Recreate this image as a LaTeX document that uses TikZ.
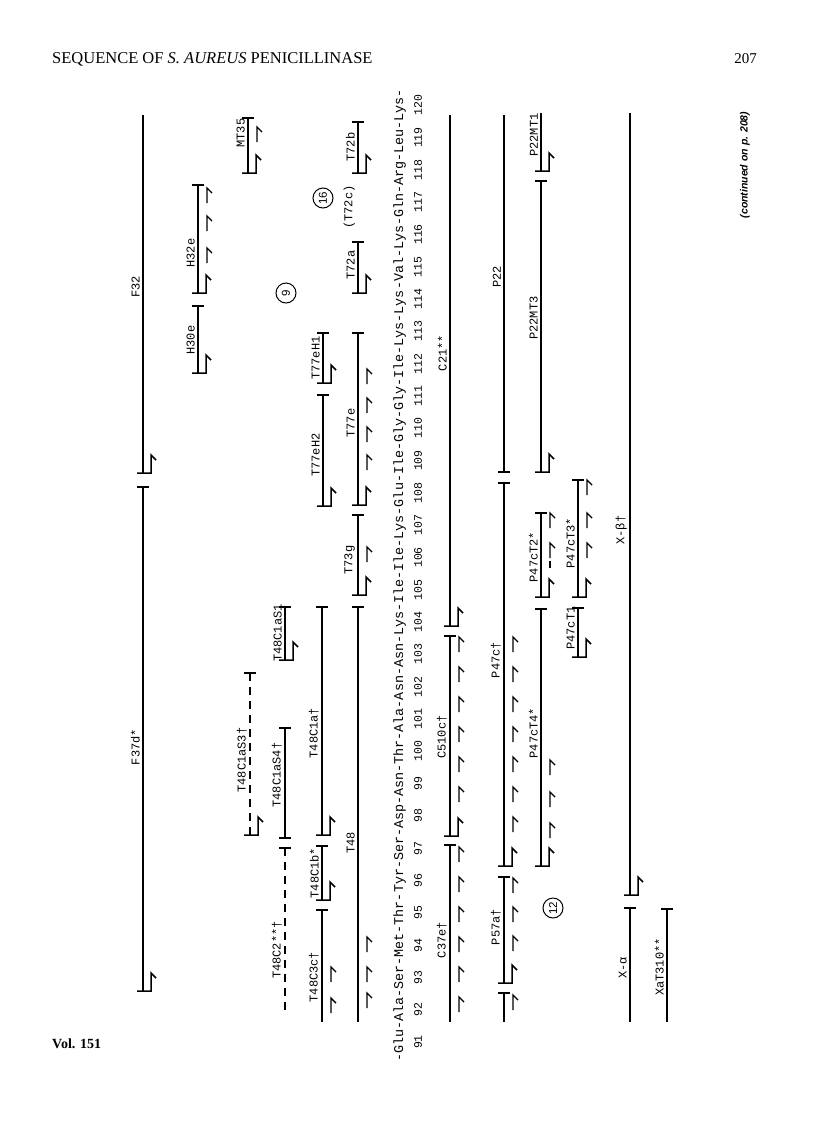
\documentclass[tikz,border=0pt]{standalone}
\usepackage{fontspec}
\setmainfont{Liberation Serif}
\newfontfamily\twfont{Liberation Mono}
\newfontfamily\optfont{Liberation Sans}
\newcommand\pbar[2]{\draw[pep] (#1-6,#2) -- (#1+6,#2);}
\newcommand\phook[2]{\draw[pep] (#1-6,#2) -- (#1+8,#2) -- (#1+8,#2-18) -- (#1+13,#2-13);}
\newcommand\parr[2]{\draw[arr] (#1+9,#2+15) -- (#1+9,#2) -- (#1+14,#2+5);}
\begin{document}
\begin{tikzpicture}[x=1pt,y=-1pt,
  pep/.style={line width=1.5pt},
  arr/.style={line width=1.4pt},
  dpep/.style={line width=1.5pt, dash pattern=on 8pt off 6pt},
  lab/.style={rotate=90, anchor=south, inner sep=1pt, font=\twfont\fontsize{12}{12}\selectfont},
  num/.style={rotate=90, inner sep=0pt, font=\twfont\fontsize{11.5}{12}\selectfont},
  circ/.style={circle, draw, line width=1pt, inner sep=0pt, minimum size=20pt, rotate=90, font=\optfont\fontsize{11.5}{12}\selectfont},
  ]
\useasboundingbox (0,0) rectangle (816,1136);
% page furniture
\node[anchor=base west, inner sep=0pt, font=\fontsize{16.5}{18}\selectfont] (hdr) at (52,63) {SEQUENCE OF \textit{S. AUREUS} PENICILLINASE};
\node[anchor=base east, inner sep=0pt, font=\fontsize{15}{18}\selectfont] (pg) at (757,63) {207};
\node[anchor=base west, inner sep=0pt, font=\bfseries\fontsize{14}{16}\selectfont] (vol) at (52,1048) {Vol. 151};
\node[rotate=90, inner sep=0pt, font=\optfont\bfseries\itshape\fontsize{10.5}{12}\selectfont] (cont) at (745,165) {(continued on p. 208)};
% sequence
\node[rotate=90, anchor=base west, inner sep=0pt, font=\twfont\fontsize{13.4}{14}\selectfont] (seq) at (403,1062) {-Glu-Ala-Ser-Met-Thr-Tyr-Ser-Asp-Asn-Thr-Ala-Asn-Asn-Lys-Ile-Ile-Lys-Glu-Ile-Gly-Gly-Ile-Lys-Lys-Val-Lys-Gln-Arg-Leu-Lys-};
\foreach \n in {91,...,120} \node[num] (n\n) at (418,{1042-32.3*(\n-91)}) {\n};
% column F32 / F37d*
\draw[pep] (143,487) -- (143,991); \phook{143}{991} \pbar{143}{487}
\node[lab] (lF37) at (141,747) {F37d*};
\draw[pep] (143,115) -- (143,473); \phook{143}{473}
\node[lab] (lF32) at (141,287) {F32};
% H30e, H32e
\draw[pep] (198,306) -- (198,373); \pbar{198}{306} \phook{198}{373}
\node[lab] (lH30) at (196,340) {H30e};
\draw[pep] (198,185) -- (198,293); \pbar{198}{185} \phook{198}{293}
\parr{198}{188} \parr{198}{216} \parr{198}{248}
\node[lab] (lH32) at (196,253) {H32e};
% MT35
\draw[pep] (248,118) -- (248,173); \pbar{248}{118} \phook{248}{173} \parr{248}{127}
\node[lab] (lMT35) at (246,133) {MT35};
% T48C1aS3 dashed
\draw[dpep] (250,673) -- (250,835); \pbar{250}{673} \phook{250}{835}
\node[lab] (lS3) at (248,760) {T48C1aS3\dag};
% column 285
\draw[pep] (285,607) -- (285,660); \pbar{285}{607} \phook{285}{660}
\node[lab] (lS1) at (283,633) {T48C1aS1};
\draw[pep] (285,728) -- (285,838); \pbar{285}{728} \pbar{285}{838}
\node[lab] (lS4) at (283,775) {T48C1aS4\dag};
\draw[dpep] (285,848) -- (285,1013); \pbar{285}{848}
\node[lab] (lC2) at (283,950) {T48C2**\dag};
\node[circ] (c9) at (286,293) {9};
\node[circ] (c16) at (323,198) {16};
% column 322
\draw[pep] (323,333) -- (323,383); \pbar{323}{333} \phook{323}{383}
\node[lab] (lH1) at (321,358) {T77eH1};
\draw[pep] (323,395) -- (323,506); \pbar{323}{395} \phook{323}{506}
\node[lab] (lH2) at (321,455) {T77eH2};
\draw[pep] (322,607) -- (322,835); \pbar{322}{607} \phook{322}{835}
\node[lab] (lC1a) at (320,733) {T48C1a\dag};
\draw[pep] (322,846) -- (322,900); \pbar{322}{846} \phook{322}{900}
\node[lab] (lC1b) at (320,873) {T48C1b*};
\draw[pep] (322,910) -- (322,1022); \pbar{322}{910} \parr{322}{967} \parr{322}{998}
\node[lab] (lC3c) at (320,977) {T48C3c\dag};
% column 358
\draw[pep] (358,122) -- (358,173); \pbar{358}{122} \phook{358}{173}
\node[lab] (lT72b) at (356,147) {T72b};
\node[lab] (lT72c) at (356,207) {(T72c)};
\draw[pep] (358,242) -- (358,293); \pbar{358}{242} \phook{358}{293}
\node[lab] (lT72a) at (356,265) {T72a};
\draw[pep] (358,333) -- (358,505); \pbar{358}{333} \phook{358}{505}
\parr{358}{369} \parr{358}{398} \parr{358}{427} \parr{358}{455}
\node[lab] (lT77e) at (356,423) {T77e};
\draw[pep] (358,515) -- (358,595); \pbar{358}{515} \phook{358}{595} \parr{358}{547}
\node[lab] (lT73g) at (356,560) {T73g};
\draw[pep] (358,607) -- (358,1022); \pbar{358}{607} \parr{358}{937} \parr{358}{967} \parr{358}{993}
\node[lab] (lT48) at (356,843) {T48};
% column 450
\draw[pep] (450,115) -- (450,626); \phook{450}{626}
\node[lab] (lC21) at (448,353) {C21**};
\draw[pep] (450,636) -- (450,836); \pbar{450}{636} \phook{450}{836}
\foreach \t in {637,667,697,727,757,787} {\parr{450}{\t}}
\node[lab] (lC510) at (448,737) {C510c\dag};
\draw[pep] (450,845) -- (450,1022); \pbar{450}{845}
\foreach \t in {847,877,907,937,967,997} {\parr{450}{\t}}
\node[lab] (lC37) at (448,940) {C37e\dag};
% column 504
\draw[pep] (504,115) -- (504,472); \pbar{504}{472}
\node[lab] (lP22) at (502,277) {P22};
\draw[pep] (504,483) -- (504,866); \pbar{504}{483} \phook{504}{866}
\foreach \t in {637,667,697,727,757,787,817} {\parr{504}{\t}}
\node[lab] (lP47c) at (502,660) {P47c\dag};
\draw[pep] (504,877) -- (504,983); \pbar{504}{877} \phook{504}{983}
\parr{504}{878} \parr{504}{907} \parr{504}{936}
\node[lab] (lP57) at (502,927) {P57a\dag};
\draw[pep] (504,993) -- (504,1022); \pbar{504}{993} \parr{504}{995}
% column 541
\draw[pep] (541,113) -- (541,171); \phook{541}{171}
\node[lab] (lMT1) at (539,135) {P22MT1};
\draw[pep] (541,181) -- (541,472); \pbar{541}{181} \phook{541}{472}
\node[lab] (lMT3) at (539,318) {P22MT3};
\draw[pep] (541,513) -- (541,597); \pbar{541}{513} \phook{541}{597} \parr{541}{513} \parr{541}{543}
\draw[arr] (550,561) -- (550,568);
\node[lab] (lT2) at (539,557) {P47cT2*};
\draw[pep] (541,609) -- (541,866); \pbar{541}{609} \phook{541}{866}
\parr{541}{760} \parr{541}{792} \parr{541}{823}
\node[lab] (lT4) at (539,733) {P47cT4*};
\node[circ] (c12) at (553,908) {12};
% column 578
\draw[pep] (578,480) -- (578,597); \pbar{578}{480} \phook{578}{597}
\parr{578}{480} \parr{578}{513} \parr{578}{543}
\node[lab] (lT3) at (576,543) {P47cT3*};
\draw[pep] (578,608) -- (578,657); \pbar{578}{608} \phook{578}{657}
\node[lab] (lT1) at (576,628) {P47cT1};
% column 630 / 667
\draw[pep] (630,113) -- (630,895); \phook{630}{895}
\node[lab] (lXb) at (628,530) {X-β\dag};
\draw[pep] (630,908) -- (630,1022); \pbar{630}{908}
\node[lab] (lXa) at (628,968) {X-α};
\draw[pep] (667,909) -- (667,1022); \pbar{667}{909}
\node[lab] (lXaT) at (665,967) {XaT310**};
\end{tikzpicture}
\end{document}
